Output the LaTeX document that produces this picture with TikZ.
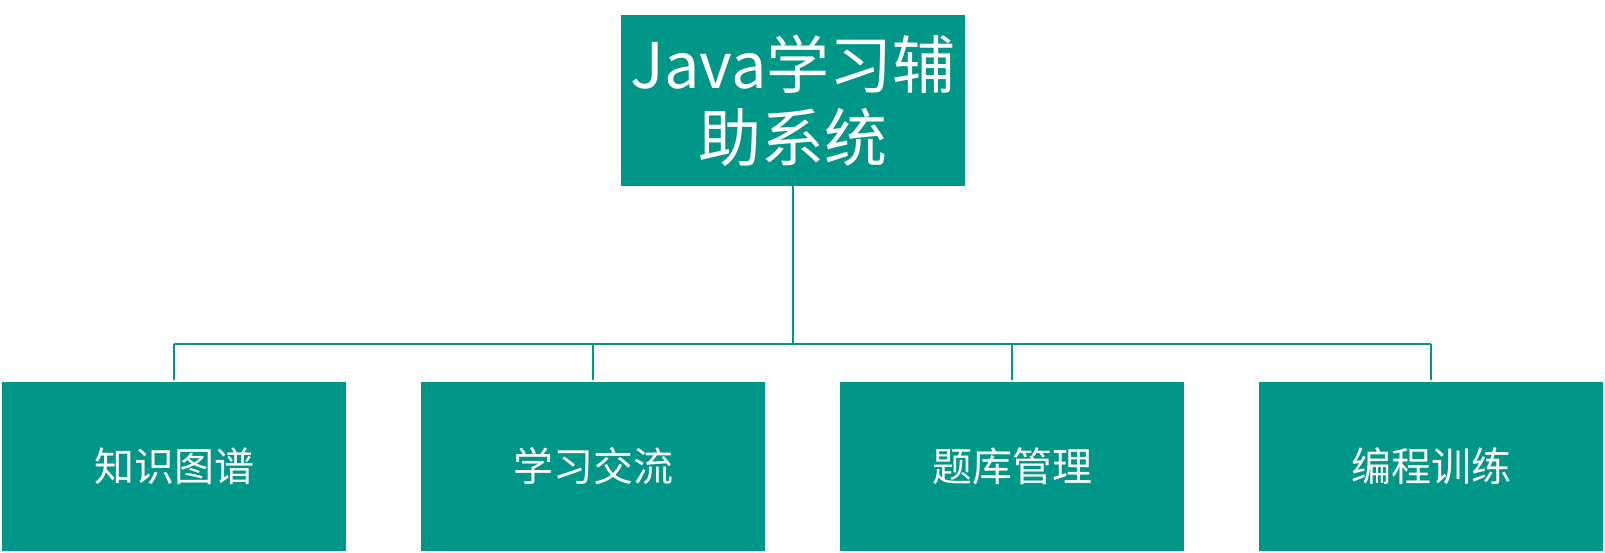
\documentclass[tikz,border=0pt]{standalone}
\usepackage{fontspec}
\setmainfont{Noto Sans CJK SC}
\definecolor{teal1}{RGB}{0,150,136}
\begin{document}
\begin{tikzpicture}[x=1pt,y=1pt,
  box/.style={fill=teal1,draw=none,minimum width=344pt,minimum height=169pt,inner sep=0pt,text=white,align=center,anchor=center},
  childtxt/.style={font=\fontsize{40}{48}\selectfont},
  roottxt/.style={font=\fontsize{63}{73}\selectfont},
  conn/.style={draw=teal1,line width=1.6pt}]
\useasboundingbox (0,0) rectangle (1605,-553);
\node[box,roottxt,minimum height=171pt] (root) at (793,-100.5) {Java学习辅\\助系统};
\node[box,childtxt] (c1) at (174,-466.5) {知识图谱};
\node[box,childtxt] (c2) at (593,-466.5) {学习交流};
\node[box,childtxt] (c3) at (1012,-466.5) {题库管理};
\node[box,childtxt] (c4) at (1431,-466.5) {编程训练};
\coordinate (bus) at (793,-344);
\coordinate (b1) at (174,-344);
\coordinate (b4) at (1431,-344);
\draw[conn] (root.south) -- (bus);
\draw[conn] (b1) -- (b4);
\foreach \c in {c1,c2,c3,c4}{
  \draw[conn] (\c.north) ++(0,2) -- (\c.north |- bus);
}
\end{tikzpicture}
\end{document}
